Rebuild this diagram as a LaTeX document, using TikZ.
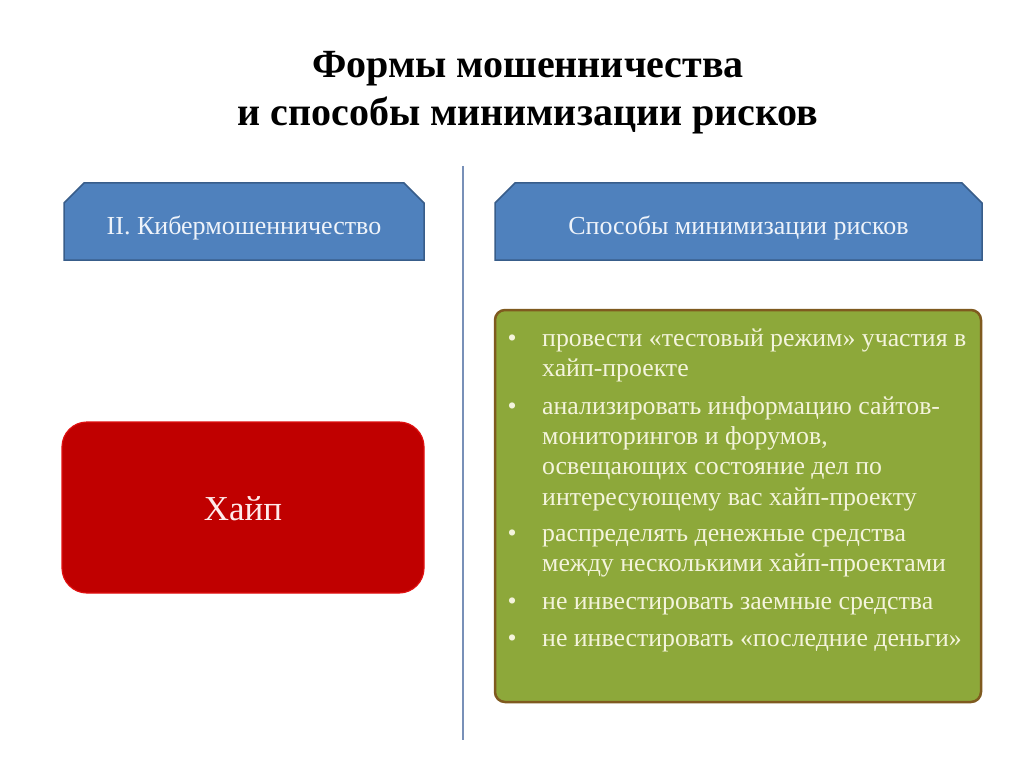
\documentclass[tikz,border=0pt]{standalone}
\usepackage{fontspec}
\setmainfont{Liberation Serif}
\usetikzlibrary{shapes.misc}
\definecolor{hdrfill}{HTML}{4F81BD}
\definecolor{hdrline}{HTML}{385D8A}
\definecolor{hdrtext}{HTML}{EEF3FA}
\definecolor{redfill}{HTML}{C00000}
\definecolor{redline}{HTML}{E01010}
\definecolor{grnfill}{HTML}{8DA83A}
\definecolor{grnline}{HTML}{7F5A1F}
\definecolor{grntext}{HTML}{F4F4DC}
\definecolor{sepline}{HTML}{7890B8}
\tikzset{
  hdrbox/.style={chamfered rectangle, chamfered rectangle corners={north west,north east},
    chamfered rectangle xsep=10pt, chamfered rectangle ysep=10pt,
    fill=hdrfill, draw=hdrline, line width=1.5pt, inner sep=0pt,
    text=hdrtext, font=\fontsize{26}{30}\selectfont, text height=28pt, text depth=1pt},
  hype/.style={rectangle, rounded corners=25pt, fill=redfill, draw=redline, line width=1.2pt,
    text=white!92!red, font=\fontsize{35}{40}\selectfont, text height=26pt, text depth=1pt},
  tips/.style={rectangle, rounded corners=10pt, fill=grnfill, draw=grnline, line width=2.5pt},
  bul/.style={anchor=north west, inner sep=0pt, text=grntext, align=left,
    font=\fontsize{25.8}{30.3}\selectfont},
  dot/.style={anchor=base west, inner sep=0pt, text=grntext, font=\fontsize{25.8}{30}\selectfont},
  ttl/.style={anchor=base, inner sep=0pt, font=\bfseries\fontsize{40}{48}\selectfont}
}
\newcommand{\firstln}{\rule{0pt}{21pt}}
\begin{document}
\begin{tikzpicture}[x=1pt,y=-1pt]
\useasboundingbox (0,0) rectangle (1024,767);
\fill[white] (0,0) rectangle (1024,767);
\node[ttl] (title1) at (528,78) {Формы мошенничества};
\node[ttl] (title2) at (528,126) {и способы минимизации рисков};
\coordinate (septop) at (463,166);
\coordinate (sepbot) at (463,740);
\draw[sepline, line width=1.5pt] (septop) -- (sepbot);
\node[hdrbox, minimum width=360pt, minimum height=77pt] (kib) at (244,221.5) {II. Кибермошенничество};
\node[hdrbox, minimum width=487pt, minimum height=77pt] (spos) at (738.5,221.5) {Способы минимизации рисков};
\node[hype, minimum width=362pt, minimum height=171pt] (hayp) at (243,507.5) {Хайп};
\node[tips, minimum width=486pt, minimum height=392pt] (box) at (738,506) {};
\node[dot] (d1) at (507.5,346) {•};
\node[bul] (t1) at (542,325) {\firstln провести «тестовый режим» участия в\\хайп-проекте};
\node[dot] (d2) at (507.5,414) {•};
\node[bul] (t2) at (542,393) {\firstln анализировать информацию сайтов-\\мониторингов и форумов,\\освещающих состояние дел по\\интересующему вас хайп-проекту};
\node[dot] (d3) at (507.5,541) {•};
\node[bul] (t3) at (542,520) {\firstln распределять денежные средства\\между несколькими хайп-проектами};
\node[dot] (d4) at (507.5,609) {•};
\node[bul] (t4) at (542,588) {\firstln не инвестировать заемные средства};
\node[dot] (d5) at (507.5,646) {•};
\node[bul] (t5) at (542,625) {\firstln не инвестировать «последние деньги»};
\end{tikzpicture}
\end{document}
